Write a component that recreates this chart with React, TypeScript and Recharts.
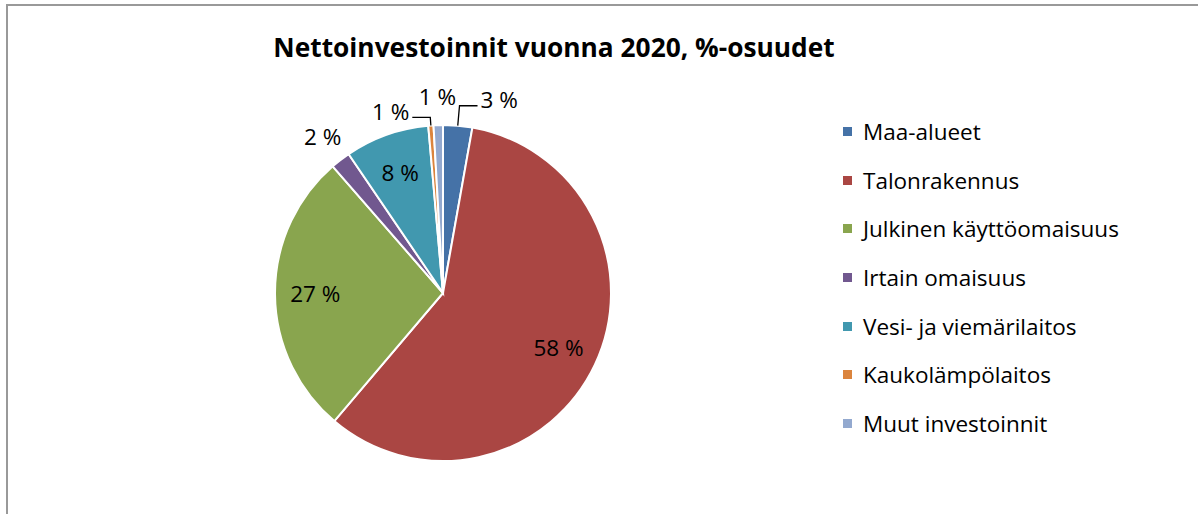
import { Cell, Legend, Pie, PieChart } from "recharts";

const categories = [
  "Maa-alueet",
  "Talonrakennus",
  "Julkinen käyttöomaisuus",
  "Irtain omaisuus",
  "Vesi- ja viemärilaitos",
  "Kaukolämpölaitos",
  "Muut investoinnit",
];
const shares = [2.8, 58.4, 27.4, 1.9, 8.1, 0.5, 0.9];
const colors = ["#4572A7", "#AA4643", "#89A54E", "#71588F", "#4198AF", "#DB843D", "#93A9CF"];

const data = categories.map((name, i) => ({ name, value: shares[i] }));

const FONT = "'Open Sans', Lato, sans-serif";
const RAD = Math.PI / 180;

// small slices whose labels Excel pushed aside, with a leader line
const nudged: Record<string, { dir: number; elbow: number }> = {
  "Maa-alueet": { dir: 1, elbow: 20 },
  Kaukolämpölaitos: { dir: -1, elbow: 8 },
};

function polar(cx: number, cy: number, r: number, angle: number) {
  return { x: cx + r * Math.cos(-angle * RAD), y: cy + r * Math.sin(-angle * RAD) };
}

function renderLabel(props: any) {
  const { cx, cy, midAngle, outerRadius, percent, name } = props;
  const text = `${Math.round(percent * 100)} %`;
  const style = { fontFamily: FONT, fontSize: 22.5, fill: "#000" };

  if (percent > 0.05) {
    const p = polar(cx, cy, outerRadius * 0.76, midAngle);
    return (
      <text x={p.x} y={p.y} textAnchor="middle" dominantBaseline="central" style={style}>
        {text}
      </text>
    );
  }

  const n = nudged[name];
  if (n) {
    const p0 = polar(cx, cy, outerRadius, midAngle);
    const p1 = polar(cx, cy, outerRadius + n.elbow, midAngle);
    const x2 = p1.x + n.dir * 18;
    return (
      <g>
        <polyline
          points={`${p0.x},${p0.y} ${p1.x},${p1.y} ${x2},${p1.y}`}
          fill="none"
          stroke="#000"
          strokeWidth={1.3}
        />
        <text
          x={x2 + n.dir * 3}
          y={p1.y - 6}
          textAnchor={n.dir > 0 ? "start" : "end"}
          dominantBaseline="central"
          style={style}
        >
          {text}
        </text>
      </g>
    );
  }

  const p = polar(cx, cy, outerRadius + 29, midAngle);
  return (
    <text x={p.x} y={p.y} textAnchor="middle" dominantBaseline="central" style={style}>
      {text}
    </text>
  );
}

function LegendList() {
  return (
    <div style={{ fontFamily: FONT, fontSize: 22.5, color: "#000" }}>
      {categories.map((name, i) => (
        <div key={name} style={{ display: "flex", alignItems: "center", height: 48.7 }}>
          <span
            style={{ width: 9, height: 9, background: colors[i], marginRight: 11, display: "inline-block" }}
          />
          <span>{name}</span>
        </div>
      ))}
    </div>
  );
}

export default function App() {
  return (
    <div style={{ position: "fixed", left: 0, top: 0, width: 1198, height: 514, overflow: "hidden", background: "#fff" }}>
      <div
        style={{
          position: "absolute",
          left: 0,
          top: 30,
          width: 1108,
          textAlign: "center",
          fontFamily: FONT,
          fontWeight: "bold",
          fontSize: 26.3,
          lineHeight: "34px",
          color: "#000",
        }}
      >
        Nettoinvestoinnit vuonna 2020, %-osuudet
      </div>
      <div style={{ position: "absolute", left: 0, top: 0 }}>
        <PieChart width={1198} height={514} margin={{ top: 0, right: 0, bottom: 0, left: 0 }}>
          <Pie
            data={data}
            dataKey="value"
            nameKey="name"
            cx={443}
            cy={293}
            outerRadius={168}
            startAngle={90}
            endAngle={-270}
            stroke="#fff"
            strokeWidth={2}
            label={renderLabel}
            labelLine={false}
            isAnimationActive={false}
          >
            {data.map((d, i) => (
              <Cell key={d.name} fill={colors[i]} />
            ))}
          </Pie>
          <Legend
            content={<LegendList />}
            layout="vertical"
            wrapperStyle={{ left: 843, top: 107, width: 340 }}
          />
        </PieChart>
      </div>
      <div
        style={{
          position: "absolute",
          left: 6,
          top: 4,
          width: 1300,
          height: 600,
          borderTop: "2px solid #999",
          borderLeft: "2px solid #999",
          boxSizing: "border-box",
          pointerEvents: "none",
        }}
      />
    </div>
  );
}
